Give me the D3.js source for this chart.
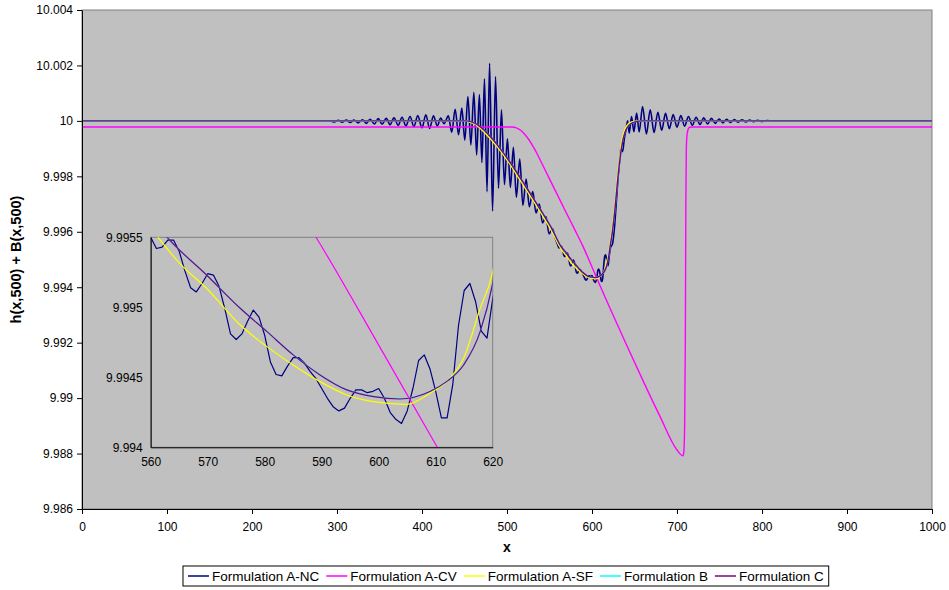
<!DOCTYPE html>
<html>
<head>
<meta charset="utf-8">
<script src="https://cdn.jsdelivr.net/npm/d3@7"></script>
<style>
  body { margin: 0; background: #ffffff; }
  text { font-family: "Liberation Sans", Arial, sans-serif; fill: #000; }
</style>
</head>
<body>
<svg id="chart" width="949" height="590"></svg>
<script>
// ---- axis ticks ----
const xTicksMain = [0, 100, 200, 300, 400, 500, 600, 700, 800, 900, 1000];
const yTicksMain = [9.986, 9.988, 9.99, 9.992, 9.994, 9.996, 9.998, 10, 10.002, 10.004];
const yTickLabelsMain = ["9.986", "9.988", "9.99", "9.992", "9.994", "9.996", "9.998", "10", "10.002", "10.004"];
const xTicksInset = [560, 570, 580, 590, 600, 610, 620];
const yTicksInset = [9.994, 9.9945, 9.995, 9.9955];
const yTickLabelsInset = ["9.994", "9.9945", "9.995", "9.9955"];

// ---- series names ----
const seriesNames = ["Formulation A-NC", "Formulation A-CV", "Formulation A-SF", "Formulation B", "Formulation C"];

// ---- series values: [x, h + B] ----
const formulationANC = [
  [0, 10], [288, 10],
  [292, 10.0], [297, 9.99996], [301.5, 10.00002], [306, 9.99995], [311, 10.00003], [315.5, 9.99994],
  [320, 10.00003], [325, 9.99993], [330, 10.00004], [334.5, 9.99991], [339, 10.00006], [344, 9.99989],
  [348.5, 10.00008], [353, 9.99988], [358, 10.00009], [362.5, 9.99986], [367, 10.00011], [372, 9.99984],
  [376.5, 10.00013], [381, 9.99982], [386, 10.00016], [390.5, 9.99979], [395, 10.00019], [400, 9.99975],
  [404.5, 10.00022], [409, 9.99973], [413.5, 10.00018], [418, 9.99982], [422, 10.0001], [426, 9.9999],
  [431, 10.00018], [435, 9.99959], [439, 10.00042], [443, 9.9995], [446.8, 10.00046], [450.4, 9.99931],
  [454, 10.00088], [457.5, 9.99913], [461, 10.00103], [464.3, 9.99877], [467.5, 10.00095], [470.5, 9.9985],
  [473.5, 10.00152], [476.5, 9.99745], [479.5, 10.00208], [483, 9.99675], [486.5, 10.0016], [490, 9.99757],
  [493.5, 10.0004], [497, 9.9977], [500.5, 9.99935], [504, 9.9976], [507.5, 9.99905], [511, 9.99725],
  [515, 9.99862], [518.7, 9.99695], [522.5, 9.9979], [526.3, 9.9969], [530.3, 9.99745], [534.1, 9.99668],
  [538, 9.997], [541.8, 9.99632], [545.7, 9.99655], [549.5, 9.99592], [553.3, 9.99612], [557, 9.99575],
  [560, 9.9955], [561, 9.99542], [562, 9.99543], [563, 9.99548], [564, 9.99548], [565, 9.9954],
  [566, 9.99526], [567, 9.99514], [568, 9.99511], [569, 9.99517], [570, 9.99524], [571, 9.99523],
  [572, 9.99515], [573, 9.99499], [574, 9.99481], [575, 9.99477], [576, 9.99481], [577, 9.9949],
  [578, 9.99498], [579, 9.99493], [580, 9.9948], [581, 9.99461], [582, 9.99452], [583, 9.99451],
  [584, 9.99458], [585, 9.99464], [586, 9.99464], [587, 9.9946], [588, 9.99454], [589, 9.99449],
  [590, 9.99442], [591, 9.99435], [592, 9.99429], [593, 9.99426], [594, 9.99428], [595, 9.99435],
  [596, 9.99441], [597, 9.99441], [598, 9.99439], [599, 9.9944], [600, 9.99442], [601, 9.99435],
  [602, 9.99425], [603, 9.9942], [604, 9.99417], [605, 9.99426], [606, 9.99442], [607, 9.99462],
  [608, 9.99466], [609, 9.99456], [610, 9.9944], [611, 9.99421], [612, 9.99421], [613, 9.99445],
  [614, 9.99487], [615, 9.99512], [616, 9.99517], [617, 9.99504], [618, 9.99483], [619, 9.99478],
  [620, 9.99506],
  [622, 9.99545], [624, 9.99555], [626, 9.996], [628.5, 9.997], [630.5, 9.9979], [632.2, 9.99847],
  [633.8, 9.99901], [636, 9.99889], [638, 9.99935], [640, 9.99968], [642, 10.0], [643.8, 9.99956],
  [646.5, 10.00016], [649.3, 9.99961], [652.5, 10.00028], [655.5, 9.9996], [659.5, 10.00052], [664, 9.99953],
  [668.5, 10.0004], [673, 9.99958], [677.5, 10.00031], [682, 9.99966], [686.5, 10.00027], [691, 9.99972],
  [695.5, 10.00023], [700, 9.99977], [704.5, 10.00019], [709, 9.99981], [713.5, 10.00016], [718, 9.99984],
  [722.5, 10.00013], [727, 9.99987], [731.5, 10.00011], [736, 9.99989], [740.5, 10.00009], [745, 9.99991],
  [749.5, 10.00007], [754, 9.99993], [758.5, 10.00006], [763, 9.99994], [767.5, 10.00005], [772, 9.99995],
  [776.5, 10.00004], [781, 9.99996], [785.5, 10.00003], [790, 9.99997], [795, 10.00002], [800, 9.99998],
  [806, 10.00001], [812, 10.0], [1000, 10.0]
];

const formulationACV = [
  [0, 9.99978], [506, 9.99978], [511, 9.99975], [516, 9.99966], [521, 9.99951], [526, 9.99931],
  [531, 9.99906], [536, 9.99878], [541, 9.99847], [550, 9.99791], [560, 9.99729], [570, 9.99667],
  [580, 9.99606], [589, 9.9955], [600, 9.99473], [610, 9.99402], [620, 9.99332], [640, 9.99196],
  [660, 9.99063], [680, 9.98934], [700, 9.98813], [707, 9.98792], [708, 9.98805], [709, 9.989],
  [709.8, 9.992], [710.4, 9.997], [711, 9.999], [712, 9.99955], [714, 9.99975], [716, 9.99978],
  [1000, 9.99978]
];

const formulationASF = [
  [0, 10], [450, 10], [455, 9.99997], [462, 9.99988], [472, 9.99963], [482, 9.9993], [492, 9.99893],
  [502, 9.9985], [512, 9.99803], [522, 9.99755], [532, 9.99707], [542, 9.99657], [552, 9.99606],
  [561.3, 9.9955], [565.1, 9.995314], [569.8, 9.995136], [575.7, 9.994874], [580.4, 9.994719],
  [585, 9.994588], [589.7, 9.994469], [594.4, 9.994374], [599.1, 9.994326], [604.9, 9.994307],
  [609, 9.994386], [611.9, 9.994469], [614.9, 9.994636], [617.8, 9.994993], [620, 9.995255],
  [621, 9.9955], [624, 9.99615], [627, 9.99695], [630, 9.998], [633, 9.99883], [635.5, 9.99935],
  [638.5, 9.99968], [642, 9.99987], [646.5, 9.99996], [656, 10], [1000, 10]
];

const formulationB = [
  [0, 10], [450, 10], [455, 9.99999], [462, 9.99992], [472, 9.9997], [482, 9.99938], [492, 9.999],
  [502, 9.99858], [512, 9.99812], [522, 9.99764], [532, 9.99716], [542, 9.99667], [552, 9.99616],
  [562.9, 9.9955], [569.8, 9.995233], [575.7, 9.994995], [580.4, 9.994828], [585, 9.994662],
  [589.7, 9.994519], [594.4, 9.994412], [599.1, 9.994364], [603.7, 9.994347], [609, 9.9944],
  [611.9, 9.994471], [614.9, 9.99459], [617.8, 9.994826], [620, 9.995165], [621, 9.99538],
  [624, 9.99598], [627, 9.99678], [630, 9.99778], [633, 9.99864], [636, 9.99924], [639, 9.9996],
  [643, 9.99982], [648, 9.99994], [658, 10], [1000, 10]
];

const formulationC = [
  [0, 10], [450, 10], [455, 9.99999], [462, 9.99992], [472, 9.9997], [482, 9.99938], [492, 9.999],
  [502, 9.99858], [512, 9.99812], [522, 9.99764], [532, 9.99716], [542, 9.99667], [552, 9.99616],
  [562.9, 9.9955], [569.8, 9.995231], [575.7, 9.994993], [580.4, 9.994826], [585, 9.99466],
  [589.7, 9.994517], [594.4, 9.99441], [599.1, 9.994362], [603.7, 9.994345], [609, 9.994398],
  [611.9, 9.994469], [614.9, 9.994588], [617.8, 9.994826], [620, 9.995171], [621, 9.9954],
  [624, 9.996], [627, 9.9968], [630, 9.9978], [633, 9.99865], [636, 9.99925], [639, 9.9996],
  [643, 9.99982], [648, 9.99994], [658, 10], [1000, 10]
];

// ---- presentation ----
const seriesData = [formulationANC, formulationACV, formulationASF, formulationB, formulationC];
const seriesColors = ["#000080", "#ff00ff", "#ffff00", "#00ffff", "#800080"];

const svg = d3.select("#chart");
const plotBg = "#c0c0c0";

// main plot frame
const main = { left: 82, right: 932, top: 10, bottom: 509 };
const x = d3.scaleLinear().domain([0, 1000]).range([main.left, main.right]);
const y = d3.scaleLinear().domain([9.986, 10.004]).range([main.bottom, main.top]);

svg.append("rect")
  .attr("x", main.left).attr("y", main.top)
  .attr("width", main.right - main.left).attr("height", main.bottom - main.top)
  .attr("fill", plotBg).attr("stroke", "#808080").attr("stroke-width", 1);

svg.append("clipPath").attr("id", "clipMain")
  .append("rect")
  .attr("x", main.left).attr("y", main.top)
  .attr("width", main.right - main.left).attr("height", main.bottom - main.top);

const gMainLines = svg.append("g").attr("clip-path", "url(#clipMain)");
const lineMain = d3.line().x(d => x(d[0])).y(d => y(d[1])).curve(d3.curveMonotoneX);
seriesData.forEach((data, i) => {
  gMainLines.append("path")
    .datum(data)
    .attr("d", lineMain)
    .attr("fill", "none")
    .attr("stroke", seriesColors[i])
    .attr("stroke-width", i === 0 ? 1.6 : 1.4)
    .attr("stroke-linejoin", "round");
});

// main axes
const yAxis = d3.axisLeft(y).tickValues(yTicksMain)
  .tickFormat((d, i) => yTickLabelsMain[i]).tickSizeInner(5).tickSizeOuter(0).tickPadding(4);
const gy = svg.append("g").attr("transform", `translate(${main.left},0)`).call(yAxis);
const xAxis = d3.axisBottom(x).tickValues(xTicksMain).tickFormat(d3.format("d"))
  .tickSizeInner(5).tickSizeOuter(0).tickPadding(8);
const gx = svg.append("g").attr("transform", `translate(0,${main.bottom})`).call(xAxis);
[gx, gy].forEach(g => {
  g.selectAll("path.domain").attr("stroke", "#000").attr("stroke-width", 1);
  g.selectAll(".tick line").attr("stroke", "#000");
  g.selectAll("text").attr("font-size", 12).attr("font-family", "Liberation Sans, Arial, sans-serif");
});

// axis titles
svg.append("text")
  .attr("x", (main.left + main.right) / 2).attr("y", 552)
  .attr("text-anchor", "middle").attr("font-size", 14).attr("font-weight", "bold")
  .text("x");
svg.append("text")
  .attr("transform", `translate(21,${(main.top + main.bottom) / 2}) rotate(-90)`)
  .attr("text-anchor", "middle").attr("font-size", 14.5).attr("font-weight", "bold")
  .text("h(x,500) + B(x,500)");

// ---- inset: close-up of the trough ----
const inset = { left: 150.7, right: 492.7, top: 237.3, bottom: 447.3 };
const xi = d3.scaleLinear().domain([560, 620]).range([inset.left, inset.right]);
const yi = d3.scaleLinear().domain([9.994, 9.9955]).range([inset.bottom, inset.top]);

svg.append("rect")
  .attr("x", inset.left).attr("y", inset.top)
  .attr("width", inset.right - inset.left).attr("height", inset.bottom - inset.top)
  .attr("fill", plotBg).attr("stroke", "#808080").attr("stroke-width", 1);

svg.append("clipPath").attr("id", "clipInset")
  .append("rect")
  .attr("x", inset.left).attr("y", inset.top)
  .attr("width", inset.right - inset.left).attr("height", inset.bottom - inset.top);

const gInsetLines = svg.append("g").attr("clip-path", "url(#clipInset)");
seriesData.forEach((data, i) => {
  const ln = d3.line().x(d => xi(d[0])).y(d => yi(d[1]))
    .curve(i === 0 ? d3.curveLinear : d3.curveMonotoneX);
  gInsetLines.append("path")
    .datum(data.filter(d => d[0] >= 540 && d[0] <= 640))
    .attr("d", ln)
    .attr("fill", "none")
    .attr("stroke", seriesColors[i])
    .attr("stroke-width", 1.2)
    .attr("stroke-linejoin", "round");
});

const yiAxis = d3.axisLeft(yi).tickValues(yTicksInset)
  .tickFormat((d, i) => yTickLabelsInset[i]).tickSize(0).tickPadding(8);
const gyi = svg.append("g").attr("transform", `translate(${inset.left},0)`).call(yiAxis);
const xiAxis = d3.axisBottom(xi).tickValues(xTicksInset).tickFormat(d3.format("d"))
  .tickSize(0).tickPadding(10);
const gxi = svg.append("g").attr("transform", `translate(0,${inset.bottom})`).call(xiAxis);
[gxi, gyi].forEach(g => {
  g.selectAll("path.domain").attr("stroke", "#000").attr("stroke-width", 1);
  g.selectAll("text").attr("font-size", 12).attr("font-family", "Liberation Sans, Arial, sans-serif");
});

// ---- legend ----
const legend = svg.append("g");
const legendBox = legend.append("rect")
  .attr("x", 183).attr("y", 566).attr("width", 655).attr("height", 20)
  .attr("fill", "#fff").attr("stroke", "#000").attr("stroke-width", 1);
let cursor = 188;
let lastEnd = cursor;
seriesNames.forEach((name, i) => {
  legend.append("line")
    .attr("x1", cursor).attr("x2", cursor + 21)
    .attr("y1", 576).attr("y2", 576)
    .attr("stroke", seriesColors[i]).attr("stroke-width", 1.5);
  const t = legend.append("text")
    .attr("x", cursor + 24).attr("y", 580.5)
    .attr("font-size", 13.5)
    .text(name);
  lastEnd = cursor + 24 + t.node().getComputedTextLength();
  cursor = lastEnd + 7;
});
legendBox.attr("width", lastEnd - 183 + 5);
</script>
</body>
</html>
